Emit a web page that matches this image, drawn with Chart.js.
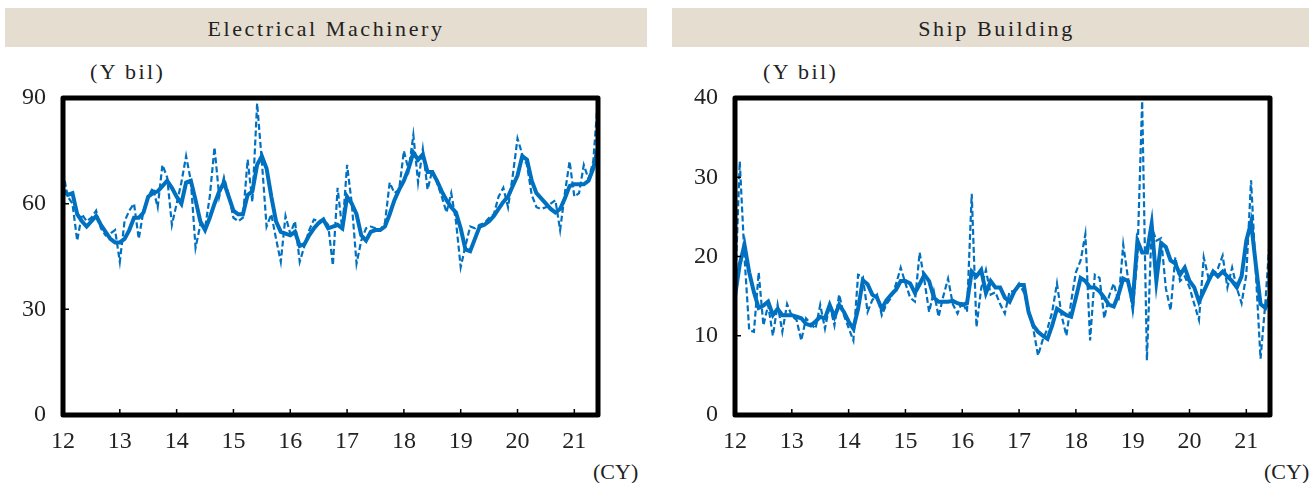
<!DOCTYPE html>
<html>
<head>
<meta charset="utf-8">
<script src="https://cdn.jsdelivr.net/npm/chart.js@4.4.1/dist/chart.umd.min.js"></script>
<style>
  body { margin: 0; background: #fff; width: 1309px; height: 483px; overflow: hidden; position: relative; font-family: "Liberation Serif", serif; }
  .bar { position: absolute; top: 8px; height: 39px; background: #e6ddd1; color: #222; font-size: 22px; letter-spacing: 2.6px; line-height: 42px; text-align: center; }
  .unit { position: absolute; font-size: 22px; letter-spacing: 2.4px; color: #222; }
  .cy { position: absolute; font-size: 22px; color: #222; }
  canvas { position: absolute; top: 0; }
</style>
</head>
<body>
<div class="bar" style="left:5px;width:642px;">Electrical Machinery</div>
<div class="bar" style="left:672px;width:637px;text-indent:12px;">Ship Building</div>
<div class="unit" style="left:90px;top:59px;">(Y bil)</div>
<div class="unit" style="left:763px;top:59px;">(Y bil)</div>
<div class="cy" style="left:593px;top:459px;">(CY)</div>
<div class="cy" style="left:1264px;top:459px;">(CY)</div>
<canvas id="elec" style="left:0px;width:650px;height:483px;" width="650" height="483"></canvas>
<canvas id="ship" style="left:655px;width:654px;height:483px;" width="654" height="483"></canvas>
<script>
// monthly, Jan 2012 - Jun 2021
const yearLabels = ['12', '13', '14', '15', '16', '17', '18', '19', '20', '21'];

// Electrical Machinery
const elecMonthly = [
  69, 62, 60, 49.5, 57, 55, 56, 58, 53, 51, 51.5, 52.5,
  43.5, 55, 58, 60, 50, 58, 62, 64.5, 59, 71, 67.5, 54,
  60, 66, 73.5, 66.5, 47.5, 54, 53, 62, 76, 62, 67.5, 62.5,
  56, 55, 56, 72.5, 60.5, 88.5, 72, 53.5, 57, 50, 43.5, 56.5,
  51.5, 55, 43.5, 48, 52.5, 55.5, 55, 55.5, 54, 42.5, 64.5, 52.5,
  71, 60, 43, 49.5, 53, 53.5, 53, 52.5, 54.5, 66, 63, 64,
  75, 69.5, 79.5, 66, 75.5, 64, 69.5, 66, 62, 57.5, 63, 55,
  42, 48, 53.5, 53, 54, 54.5, 56, 57, 62, 64.5, 59, 68,
  78.5, 74, 71, 62.5, 59, 58.5, 59, 60, 61, 52.5, 63, 72,
  62, 63, 71, 67, 72, 90
];
const elecAverage = [
  64, 62.5, 63, 57, 55, 53.5, 55, 56.5, 54, 52, 50, 49,
  49, 50, 52.5, 56, 56, 57.5, 62, 63, 63.5, 65, 66.5, 64.5,
  62, 60, 66, 66.5, 61, 55, 52.5, 56, 60, 63.5, 66, 62,
  58, 57, 57, 62.5, 63.5, 71, 73.5, 70, 62, 55, 52, 51.5,
  51, 52, 48, 48.5, 51, 53, 54.5, 55.5, 53, 53.5, 54, 53,
  62, 60, 57, 51, 49.5, 52, 52.5, 52.5, 53.5, 57, 61, 64,
  66.5, 70, 74.5, 72.5, 74, 69, 69, 66.5, 63.5, 61, 59, 57.5,
  53, 47, 46.5, 50, 53.5, 54, 55, 56.5, 58.5, 60.5, 62, 65,
  68, 73.5, 72.5, 66.5, 63, 61.5, 60, 58.5, 57.5, 58.5, 61.5, 65,
  65.5, 65.5, 65.5, 66.5, 70, 76
];
const elecTicks = [0, 30, 60, 90];

// Ship Building
const shipMonthly = [
  15, 32, 20, 10.7, 10.5, 18, 11.3, 13.9, 10, 13.9, 10.5, 14,
  12.5, 12, 9.4, 12.2, 11.5, 10.9, 13.9, 10.9, 13.9, 11.3, 15.2, 12.6,
  11, 9.4, 17.7, 17.5, 13, 14.5, 15.2, 12.6, 14, 14.8, 16.5, 18.6,
  16.6, 14.8, 14.3, 20.5, 17, 13, 15.6, 12.4, 15, 17.2, 14, 12.8,
  14.3, 13, 27.9, 11.1, 16, 18.3, 15.2, 15.5, 14, 12.8, 15.6, 15.6,
  16.6, 15.5, 13.4, 10.9, 7.5, 9.5, 10.9, 13, 16.6, 12.5, 10, 14.3,
  18, 19.5, 22.8, 9.4, 17.7, 17.3, 12.2, 15, 16.6, 14.3, 21.5, 17.3,
  13.2, 20, 39.6, 6.9, 23.7, 22, 22.3, 16, 13.2, 19.9, 16.9, 17.5,
  16.1, 14, 12, 19.9, 17.3, 17.7, 18.5, 20.1, 16.1, 18.6, 16, 14.1,
  17.7, 29.6, 18, 7.1, 14, 22.8
];
const shipAverage = [
  15, 19, 21.5, 18, 15.5, 13.5, 13.8, 14.3, 12.6, 13.4, 12.6, 12.6,
  12.6, 12.4, 12.2, 11.5, 11.3, 11.8, 12.4, 12.2, 13.9, 12.4, 13.9, 13,
  11.8, 10.9, 13.4, 17, 16.5, 15.2, 14.8, 13.4, 14.5, 15.2, 15.8, 16.9,
  16.9, 16.6, 15.4, 16.5, 17.7, 16.9, 14.8, 14.3, 14.3, 14.3, 14.4, 14.1,
  13.9, 14.1, 18.1, 17.5, 18.3, 15.4, 16.9, 16.1, 16.1, 14.8, 14.3, 15.6,
  16.4, 16.4, 13, 11.3, 10.5, 10, 9.6, 11.3, 13.4, 13, 12.6, 12.4,
  14.8, 17.3, 16.9, 16.1, 16.1, 15.6, 14.8, 13.9, 13.7, 15.2, 17.2, 16.9,
  14.3, 22, 20.5, 20.5, 24.1, 16.9, 21.7, 21.2, 19.5, 19.1, 17.7, 18.6,
  16.9, 16.1, 14.3, 15.6, 16.9, 18.1, 17.5, 18.1, 17.5, 16.9, 16.1, 17.5,
  22, 24.3, 19, 14, 13.5, 15
];
const shipTicks = [0, 10, 20, 30, 40];

const lineBlue = '#0070c0';
const textColor = '#222';
const tickFont = { family: 'Liberation Serif', size: 24 };

// thick black frame and short inward tick marks
const framePlugin = {
  id: 'frame',
  afterDraw(chart) {
    const ctx = chart.ctx;
    const a = chart.chartArea;
    const xs = chart.scales.x, ys = chart.scales.y;
    ctx.save();
    ctx.strokeStyle = '#000';
    ctx.lineWidth = 1.5;
    ctx.beginPath();
    xs.ticks.forEach(t => {
      if (t.value <= xs.min) return;
      const px = xs.getPixelForValue(t.value);
      ctx.moveTo(px, a.bottom);
      ctx.lineTo(px, a.bottom - 6);
    });
    ys.ticks.forEach(t => {
      if (t.value <= ys.min || t.value >= ys.max) return;
      const py = ys.getPixelForValue(t.value);
      ctx.moveTo(a.left, py);
      ctx.lineTo(a.left + 6, py);
    });
    ctx.stroke();
    ctx.lineWidth = 5;
    ctx.lineJoin = 'round';
    ctx.strokeRect(a.left, a.top, a.right - a.left, a.bottom - a.top);
    ctx.restore();
  }
};

function makeChart(id, monthly, average, yTicks, yAxisWidth, rightPad) {
  const pts = arr => arr.map((v, i) => ({ x: i, y: v }));
  return new Chart(document.getElementById(id), {
    type: 'line',
    data: {
      datasets: [{
        label: 'Monthly',
        data: pts(monthly),
        borderColor: lineBlue,
        borderWidth: 2.2,
        borderDash: [6, 3],
        pointRadius: 0,
        tension: 0
      }, {
        label: '3-month average',
        data: pts(average),
        borderColor: lineBlue,
        borderWidth: 4,
        pointRadius: 0,
        tension: 0
      }]
    },
    options: {
      responsive: false,
      animation: false,
      layout: { padding: { top: 98, right: rightPad, left: 0, bottom: 0 } },
      plugins: { legend: { display: false }, tooltip: { enabled: false } },
      scales: {
        x: {
          type: 'linear',
          min: 0,
          max: monthly.length - 1,
          afterBuildTicks: s => { s.ticks = yearLabels.map((l, k) => ({ value: k * 12 })); },
          afterFit: s => { s.height = 68; },
          grid: { display: false, drawTicks: false },
          border: { display: false },
          ticks: {
            padding: 12,
            maxRotation: 0,
            autoSkip: false,
            color: textColor,
            font: tickFont,
            callback: v => yearLabels[Math.round(v / 12)]
          }
        },
        y: {
          min: yTicks[0],
          max: yTicks[yTicks.length - 1],
          afterBuildTicks: s => { s.ticks = yTicks.map(v => ({ value: v })); },
          afterFit: s => { s.width = yAxisWidth; },
          grid: { display: false, drawTicks: false },
          border: { display: false },
          ticks: {
            padding: 17,
            color: textColor,
            font: tickFont
          }
        }
      }
    },
    plugins: [framePlugin]
  });
}

makeChart('elec', elecMonthly, elecAverage, elecTicks, 63, 52);
makeChart('ship', shipMonthly, shipAverage, shipTicks, 80, 39);
</script>
</body>
</html>
